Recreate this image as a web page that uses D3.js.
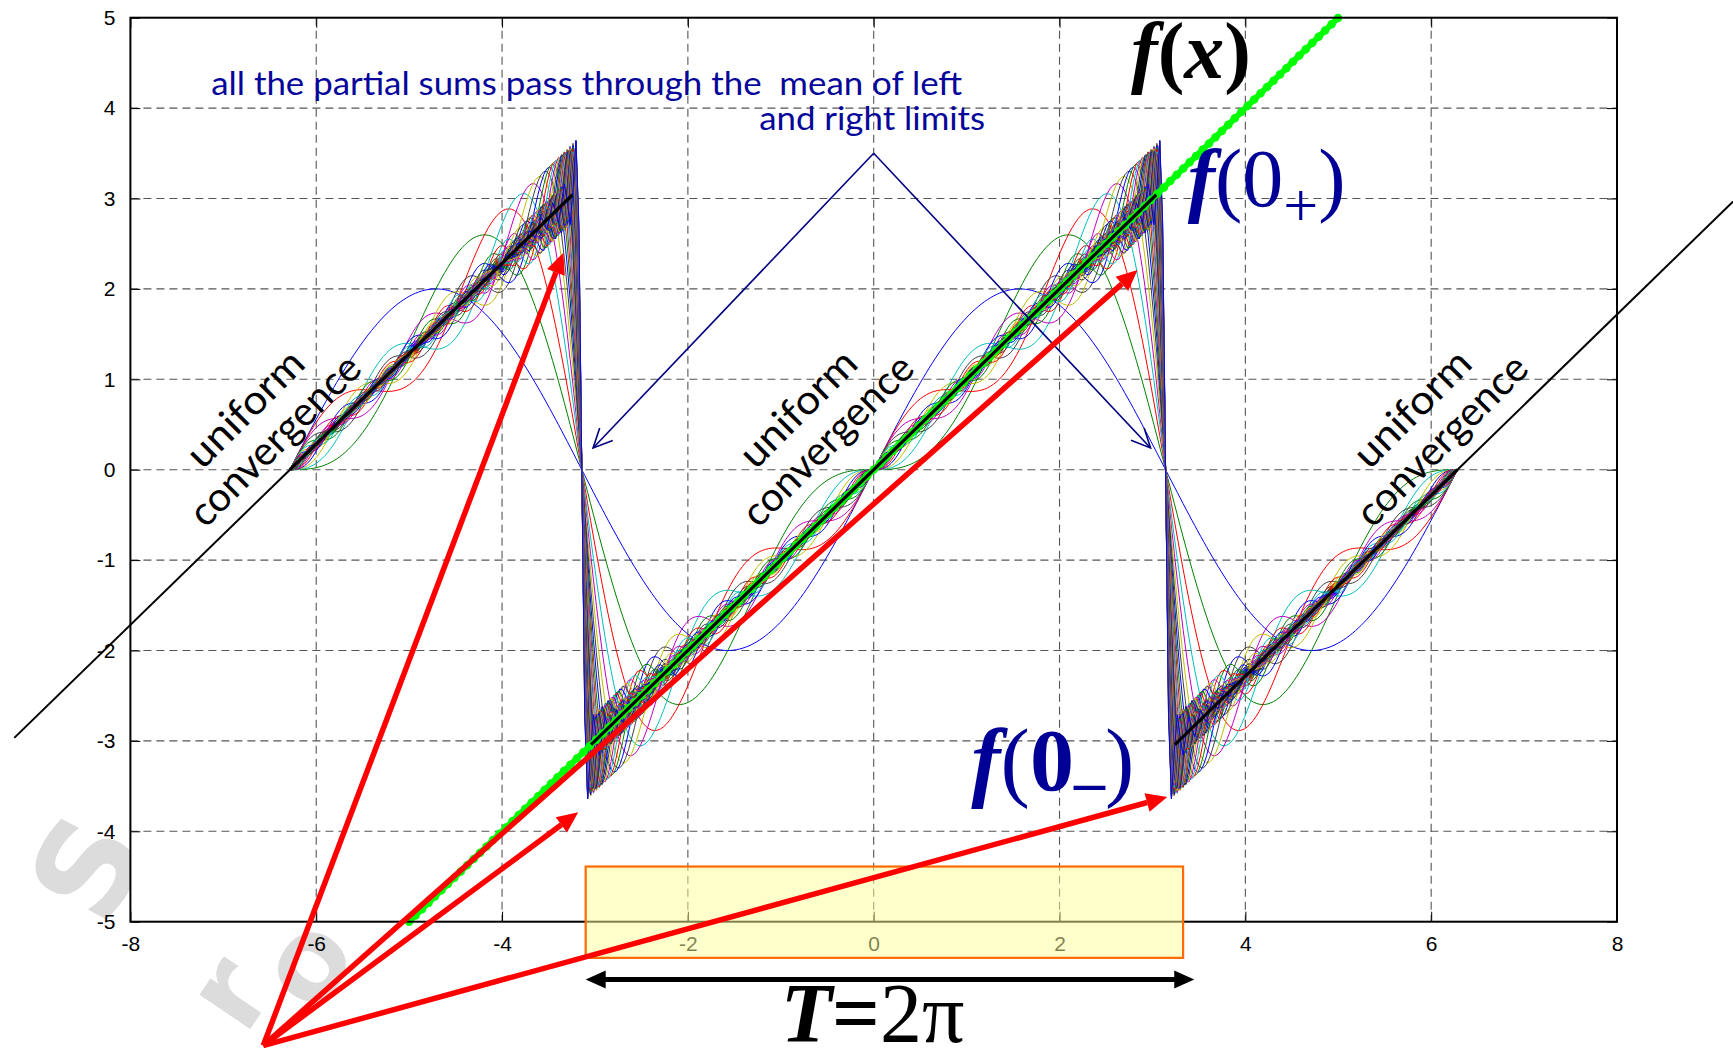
<!DOCTYPE html>
<html>
<head>
<meta charset="utf-8">
<script src="https://cdn.jsdelivr.net/npm/d3@7"></script>
<style>
  body { margin: 0; background: #fff; }
  svg { display: block; }
</style>
</head>
<body>
<svg id="chart" width="1733" height="1048"></svg>
<script>
// ---- data -------------------------------------------------------------
const PI = Math.PI;
const xTicks = [-8, -6, -4, -2, 0, 2, 4, 6, 8];
const yTicks = [-5, -4, -3, -2, -1, 0, 1, 2, 3, 4, 5];

// number of harmonics kept in each partial sum S_N of f(x) = x on (-pi, pi)
const harmonicCounts = d3.range(1, 51);
// Fourier sine coefficients of the sawtooth: b_n = 2(-1)^(n+1)/n
const sineCoef = n => 2 * (n % 2 ? 1 : -1) / n;
// abscissae at which every partial sum is evaluated: two full periods
const sampleX = d3.range(401).map(i => -2 * PI + i * PI / 100);

const seriesColors = ["#0000ff", "#008000", "#ff0000", "#00bfbf", "#bf00bf", "#bfbf00", "#404040"];

// f(x) drawn on each period, stopping just short of the jumps
const fSegments = [
  { from: -2 * PI, to: -PI - 0.1, shift: 2 * PI },
  { from: -PI + 0.1, to: PI - 0.1, shift: 0 },
  { from: PI + 0.1, to: 2 * PI, shift: -2 * PI }
];
// periodic extension continued past the axes
const extensionSegments = [
  { from: -9.25, to: -2 * PI, shift: 2 * PI },
  { from: 2 * PI, to: 9.25, shift: -2 * PI }
];
const identityRange = [-5, 5];

// annotation anchors (data units)
const arrowOrigin = [-6.57, -6.37];
const arrowTips = [[-3.34, 2.40], [-3.18, -3.79], [2.84, 2.21], [3.16, -3.62]];
const meanApex = [0, 3.5];
const meanTips = [[-3.02, 0.24], [2.98, 0.24]];
const periodBox = { x0: -3.10, x1: 3.33, y0: -4.39, y1: -5.40 };
const periodArrow = { x0: -3.10, x1: 3.45, y: -5.64 };
const convergenceLabels = [
  { u: [-6.66, 0.57], c: [-6.34, 0.22] },
  { u: [-0.71, 0.57], c: [-0.39, 0.22] },
  { u: [5.90, 0.57], c: [6.22, 0.22] }
];

// ---- scales -----------------------------------------------------------
const svg = d3.select("#chart");
const x = d3.scaleLinear().domain([-8, 8]).range([130.4, 1617]);
const y = d3.scaleLinear().domain([-5, 5]).range([921.7, 17.7]);
const line = d3.line().x(d => x(d[0])).y(d => y(d[1]));

// ---- faint stamp behind the chart ------------------------------------
const stamp = svg.append("g").attr("fill", "#dcdcdc")
  .attr("font-family", "'DejaVu Sans', sans-serif").attr("font-weight", "bold");
[["S", 88, 868, -62, 130], ["r", 228, 992, -56, 112], ["o", 305, 962, -54, 112]]
  .forEach(([t, px, py, a, s]) => {
    stamp.append("text").attr("transform", `translate(${px},${py}) rotate(${a})`)
      .attr("text-anchor", "middle").attr("dominant-baseline", "central")
      .attr("font-size", s).text(t);
  });

// plot background
svg.append("rect").attr("x", x(-8)).attr("y", y(5))
  .attr("width", x(8) - x(-8)).attr("height", y(-5) - y(5)).attr("fill", "#fff");

// ---- grid -------------------------------------------------------------
const grid = svg.append("g").attr("stroke", "#555").attr("stroke-width", 1.1)
  .attr("stroke-dasharray", "8,5");
grid.selectAll(".gv").data(xTicks.slice(1, -1)).join("line")
  .attr("x1", d => x(d)).attr("x2", d => x(d)).attr("y1", y(5)).attr("y2", y(-5));
grid.selectAll(".gh").data(yTicks.slice(1, -1)).join("line")
  .attr("x1", x(-8)).attr("x2", x(8)).attr("y1", d => y(d)).attr("y2", d => y(d));

// ---- partial sums -----------------------------------------------------
const partialSums = harmonicCounts.map(N => sampleX.map(t => {
  let s = 0;
  for (let n = 1; n <= N; n++) s += sineCoef(n) * Math.sin(n * t);
  return [t, s];
}));
svg.append("g").attr("fill", "none").attr("stroke-width", 1)
  .selectAll("path").data(partialSums).join("path")
  .attr("d", line)
  .attr("stroke", (d, i) => seriesColors[i % seriesColors.length]);

// ---- f(x) -------------------------------------------------------------
const segPts = s => [[s.from, s.from + s.shift], [s.to, s.to + s.shift]];
svg.append("g").attr("stroke", "#000").attr("stroke-width", 3.2).attr("fill", "none")
  .selectAll("path").data([fSegments[0], fSegments[2]]).join("path")
  .attr("d", d => line(segPts(d)));

// highlighted f(x) = x
const idPts = identityRange.map(v => [v, v]);
svg.append("path").attr("d", line(idPts)).attr("stroke", "#00ff00")
  .attr("stroke-width", 6).attr("fill", "none");
svg.append("path").attr("d", line(idPts)).attr("stroke", "#00ff00")
  .attr("stroke-width", 8.5).attr("stroke-linecap", "round")
  .attr("stroke-dasharray", "0 9").attr("fill", "none");

svg.append("path").attr("d", line(segPts(fSegments[1]))).attr("stroke", "#000")
  .attr("stroke-width", 3.2).attr("fill", "none");

// ---- axes -------------------------------------------------------------
const fmt = d => String(d);
const axisFont = g => g.selectAll("text")
  .attr("font-family", "'Liberation Sans', Arial, sans-serif")
  .attr("font-size", 21).attr("fill", "#000");
const clean = g => g.select(".domain").remove();

svg.append("g").attr("transform", `translate(0,${y(-5)})`)
  .call(d3.axisBottom(x).tickValues(xTicks).tickSizeInner(-10).tickSizeOuter(0)
    .tickPadding(14).tickFormat(fmt))
  .call(clean).call(axisFont)
  .call(g => g.selectAll(".tick line").attr("stroke", "#000"));
svg.append("g").attr("transform", `translate(0,${y(5)})`)
  .call(d3.axisTop(x).tickValues(xTicks).tickSizeInner(-10).tickSizeOuter(0).tickFormat(""))
  .call(clean).call(g => g.selectAll(".tick line").attr("stroke", "#000"));
svg.append("g").attr("transform", `translate(${x(-8)},0)`)
  .call(d3.axisLeft(y).tickValues(yTicks).tickSizeInner(-10).tickSizeOuter(0)
    .tickPadding(15).tickFormat(fmt))
  .call(clean).call(axisFont)
  .call(g => g.selectAll(".tick line").attr("stroke", "#000"));
svg.append("g").attr("transform", `translate(${x(8)},0)`)
  .call(d3.axisRight(y).tickValues(yTicks).tickSizeInner(-10).tickSizeOuter(0).tickFormat(""))
  .call(clean).call(g => g.selectAll(".tick line").attr("stroke", "#000"));

svg.append("rect").attr("x", x(-8)).attr("y", y(5))
  .attr("width", x(8) - x(-8)).attr("height", y(-5) - y(5))
  .attr("fill", "none").attr("stroke", "#000").attr("stroke-width", 2);

// periodic extension outside the frame
svg.append("g").attr("stroke", "#000").attr("stroke-width", 2).attr("fill", "none")
  .selectAll("path").data(extensionSegments).join("path")
  .attr("d", d => line(segPts(d)));

// ---- one period box ---------------------------------------------------
svg.append("rect")
  .attr("x", x(periodBox.x0)).attr("y", y(periodBox.y0))
  .attr("width", x(periodBox.x1) - x(periodBox.x0))
  .attr("height", y(periodBox.y1) - y(periodBox.y0))
  .attr("fill", "#ffff99").attr("fill-opacity", 0.5);
svg.append("rect")
  .attr("x", x(periodBox.x0)).attr("y", y(periodBox.y0))
  .attr("width", x(periodBox.x1) - x(periodBox.x0))
  .attr("height", y(periodBox.y1) - y(periodBox.y0))
  .attr("fill", "none").attr("stroke", "#ff6a00").attr("stroke-width", 2.2);

// ---- helpers for arrowheads -------------------------------------------
function headPoints(tip, from, len, half) {
  const dx = tip[0] - from[0], dy = tip[1] - from[1];
  const L = Math.hypot(dx, dy), ux = dx / L, uy = dy / L;
  const bx = tip[0] - ux * len, by = tip[1] - uy * len;
  return [[tip[0], tip[1]], [bx - uy * half, by + ux * half], [bx + uy * half, by - ux * half]];
}
const px = p => [x(p[0]), y(p[1])];

// ---- "mean of limits" pointers ---------------------------------------
const navy = "#000080";
const meanG = svg.append("g").attr("stroke", navy).attr("stroke-width", 1.6).attr("fill", "none");
meanTips.forEach(t => {
  const a = px(meanApex), b = px(t);
  meanG.append("line").attr("x1", a[0]).attr("y1", a[1]).attr("x2", b[0]).attr("y2", b[1]);
  const h = headPoints(b, a, 19, 9);
  meanG.append("polyline").attr("points", [h[1], h[0], h[2]].map(p => p.join(",")).join(" "));
});

// ---- text annotations -------------------------------------------------
const sansFont = "Lato, 'Open Sans', 'DejaVu Sans', sans-serif";
svg.append("text").attr("x", x(-7.13)).attr("y", y(4.14))
  .attr("font-family", sansFont).attr("font-size", 32).attr("fill", "#06069a")
  .style("white-space", "pre")
  .attr("textLength", 751).attr("lengthAdjust", "spacingAndGlyphs")
  .text("all the partial sums pass through the  mean of left");
svg.append("text").attr("x", x(1.20)).attr("y", y(3.76)).attr("text-anchor", "end")
  .attr("font-family", sansFont).attr("font-size", 32).attr("fill", "#06069a")
  .attr("textLength", 226).attr("lengthAdjust", "spacingAndGlyphs")
  .text("and right limits");

convergenceLabels.forEach(l => {
  [["uniform", l.u, 148], ["convergence", l.c, 224]].forEach(([t, p, w]) => {
    svg.append("text")
      .attr("transform", `translate(${x(p[0])},${y(p[1])}) rotate(-45)`)
      .attr("text-anchor", "middle")
      .attr("font-family", sansFont).attr("font-size", 40).attr("fill", "#000")
      .attr("textLength", w).attr("lengthAdjust", "spacingAndGlyphs")
      .text(t);
  });
});

// math labels
const serif = "'Liberation Serif', 'Times New Roman', serif";
const fx = svg.append("text").attr("x", x(2.77)).attr("y", y(4.33))
  .attr("font-family", serif).attr("font-size", 80).attr("font-weight", "bold").attr("fill", "#000");
fx.append("tspan").attr("font-style", "italic").text("f");
fx.append("tspan").text("(");
fx.append("tspan").attr("font-style", "italic").text("x");
fx.append("tspan").text(")");

const mathBlue = "#000096";
const fp = svg.append("text").attr("x", x(3.38)).attr("y", y(2.92))
  .attr("font-family", serif).attr("font-size", 82).attr("fill", mathBlue);
fp.append("tspan").attr("font-style", "italic").attr("font-weight", "bold").text("f");
fp.append("tspan").text("(0");
fp.append("tspan").attr("font-size", 62).attr("dy", 20).text("+");
fp.append("tspan").attr("dy", -20).text(")");

const fm = svg.append("text").attr("x", x(1.05)).attr("y", y(-3.54))
  .attr("font-family", serif).attr("font-size", 88).attr("fill", mathBlue);
fm.append("tspan").attr("font-style", "italic").attr("font-weight", "bold").text("f");
fm.append("tspan").text("(");
fm.append("tspan").attr("font-weight", "bold").text("0");
fm.append("tspan").attr("font-size", 62).attr("font-weight", "bold").attr("dy", -9).text("_");
fm.append("tspan").attr("dy", 9).text(")");

// ---- red pointers -----------------------------------------------------
const red = svg.append("g");
arrowTips.forEach(t => {
  const o = px(arrowOrigin), tp = px(t);
  const h = headPoints(tp, o, 21, 9.5);
  const mid = [(h[1][0] + h[2][0]) / 2, (h[1][1] + h[2][1]) / 2];
  red.append("line").attr("x1", o[0]).attr("y1", o[1]).attr("x2", mid[0]).attr("y2", mid[1])
    .attr("stroke", "#ff0000").attr("stroke-width", 5.5);
  red.append("polygon").attr("points", h.map(p => p.join(",")).join(" ")).attr("fill", "#ff0000");
});

// ---- period arrow and label -----------------------------------------
const pa = svg.append("g");
const pl = [x(periodArrow.x0), y(periodArrow.y)], pr = [x(periodArrow.x1), y(periodArrow.y)];
const hl = headPoints(pl, pr, 20, 9), hr = headPoints(pr, pl, 20, 9);
pa.append("line").attr("x1", pl[0] + 15).attr("y1", pl[1]).attr("x2", pr[0] - 15).attr("y2", pr[1])
  .attr("stroke", "#000").attr("stroke-width", 5);
pa.append("polygon").attr("points", hl.map(p => p.join(",")).join(" ")).attr("fill", "#000");
pa.append("polygon").attr("points", hr.map(p => p.join(",")).join(" ")).attr("fill", "#000");

const tl = svg.append("text").attr("x", x(-1.0)).attr("y", y(-6.33))
  .attr("font-family", serif).attr("font-size", 84).attr("fill", "#000");
tl.append("tspan").attr("font-style", "italic").attr("font-weight", "bold").text("T");
tl.append("tspan").attr("font-weight", "bold").text("=");
tl.append("tspan").text("2π");
</script>
</body>
</html>
